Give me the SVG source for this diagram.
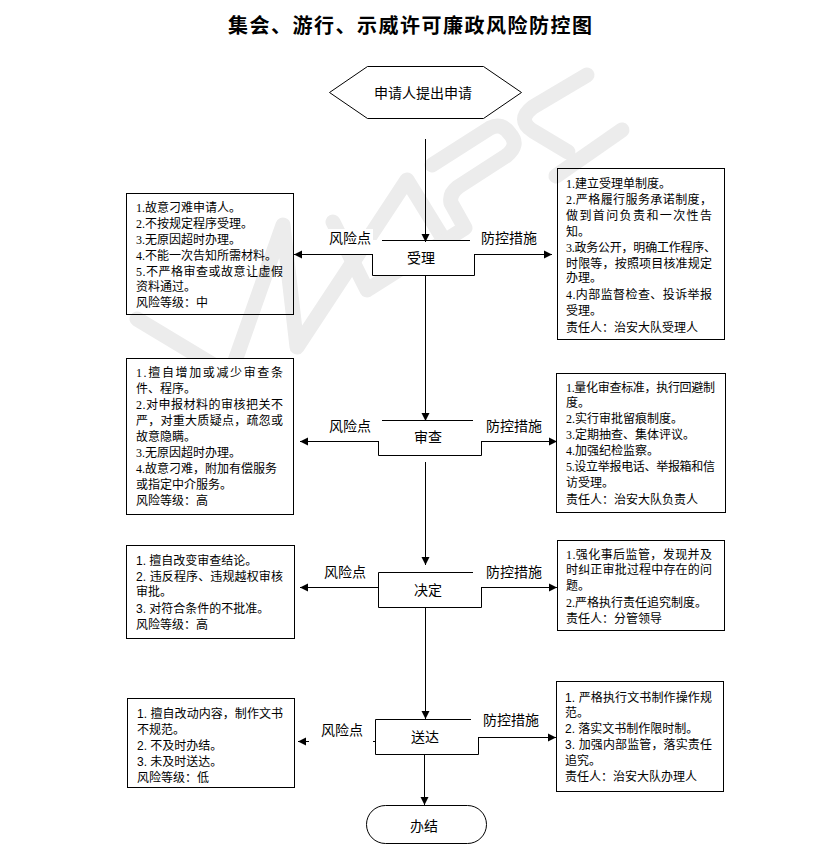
<svg xmlns="http://www.w3.org/2000/svg" width="823" height="859" viewBox="0 0 823 859">
<style>
text{font-family:"Liberation Serif","Noto Sans CJK SC",sans-serif;font-size:12px;fill:#000}
.s{font-family:"Liberation Sans","Noto Sans CJK SC",sans-serif}
.m{font-size:14px}
.c{text-anchor:middle}
.title{font-family:"Liberation Serif","Noto Sans CJK SC",serif;font-size:20px;font-weight:700;text-anchor:middle}
.box{fill:none;stroke:#000;stroke-width:1}
.ln{fill:none;stroke:#000;stroke-width:1}
.wm{fill:none;stroke:#ececec;stroke-width:15;stroke-linecap:round;stroke-linejoin:round}
.bg{fill:#fff;stroke:none}
</style>
<defs>
<marker id="ah" markerUnits="userSpaceOnUse" markerWidth="9" markerHeight="9" refX="8" refY="4.5" orient="auto"><path d="M0 0.5L8 4.5L0 8.5Z" fill="#000"/></marker>
</defs>
<rect width="823" height="859" fill="#fff"/>
<g id="watermark" class="wm">
<path d="M137 319L230 375L283 225L297 347L407 180L447 245"/>
<path d="M333 222L367 290L465 228L451 203Q449 194 458 187L506 156Q520 145 510 134Q502 122 490 128L432 165"/>
<path d="M587 75L533 107Q516 120 533 131L568 152"/>
<path d="M622 130L556 176"/>
</g>
<text class="title" x="410" y="33" textLength="364">集会、游行、示威许可廉政风险防控图</text>
<g id="start">
<path class="box" d="M329.5 92.5L367.5 66.5H483.5L521.5 92.5L483.5 118.5H367.5Z"/>
<text class="m c" x="423" y="98">申请人提出申请</text>
</g>
<g id="n-shouli">
<rect class="bg" x="372" y="240" width="103" height="36"/>
<path class="box" d="M382 240.5H470M372.5 254V275.5H474.5V254"/>
<text class="m c" x="421" y="263">受理</text>
</g>
<g id="n-shencha">
<path class="box" d="M382 420.5H473M378.5 441V455.5H481.5V441"/>
<text class="m c" x="428" y="442">审查</text>
</g>
<g id="n-jueding">
<path class="box" d="M473 572.5H378.5V607.5H481.5V587"/>
<text class="m c" x="428" y="595">决定</text>
</g>
<g id="n-songda">
<path class="box" d="M471 719.5H375.5V754.5H478.5V737"/>
<text class="m c" x="425" y="742">送达</text>
</g>
<g id="end">
<rect class="box" x="366.5" y="805.5" width="120" height="38" rx="19" ry="19"/>
<text class="m c" x="424" y="831">办结</text>
</g>
<g id="labels">
<rect class="bg" x="327" y="229" width="46" height="25"/>
<rect class="bg" x="475" y="229" width="65" height="25"/>
<text class="m" x="329" y="243">风险点</text>
<text class="m" x="481" y="243">防控措施</text>
<text class="m" x="329" y="431">风险点</text>
<text class="m" x="486" y="431">防控措施</text>
<text class="m" x="324" y="577">风险点</text>
<text class="m" x="486" y="577">防控措施</text>
<text class="m" x="321" y="735">风险点</text>
<text class="m" x="483" y="725">防控措施</text>
</g>
<g id="connectors">
<path class="ln" d="M425.5 139V242" marker-end="url(#ah)"/>
<path class="ln" d="M425.5 275V421" marker-end="url(#ah)"/>
<path class="ln" d="M425.5 462V565" marker-end="url(#ah)"/>
<path class="ln" d="M425.5 607V719" marker-end="url(#ah)"/>
<path class="ln" d="M424.5 754V805" marker-end="url(#ah)"/>
<path class="ln" d="M372 254.5H294" marker-end="url(#ah)"/>
<path class="ln" d="M474 254.5H552" marker-end="url(#ah)"/>
<path class="ln" d="M378 441.5H300" marker-end="url(#ah)"/>
<path class="ln" d="M481 441.5H557" marker-end="url(#ah)"/>
<path class="ln" d="M378 587.5H300" marker-end="url(#ah)"/>
<path class="ln" d="M481 587.5H557" marker-end="url(#ah)"/>
<path class="ln" d="M309 741.5H298" marker-end="url(#ah)"/>
<path class="ln" d="M375 741.5H373"/>
<path class="ln" d="M478 737.5H556" marker-end="url(#ah)"/>
</g>
<g id="risk-1">
<rect class="box" x="126.5" y="193.5" width="167" height="121"/>
<text x="136" y="212">1.故意刁难申请人。</text>
<text x="136" y="228">2.不按规定程序受理。</text>
<text x="136" y="244">3.无原因超时办理。</text>
<text x="136" y="260">4.不能一次告知所需材料。</text>
<text x="136" y="276" textLength="147">5.不严格审查或故意让虚假</text>
<text x="136" y="291">资料通过。</text>
<text x="136" y="307">风险等级：中</text>
</g>
<g id="control-1">
<rect class="box" x="557.5" y="168.5" width="167" height="171"/>
<text x="566" y="188">1.建立受理单制度。</text>
<text x="566" y="204" textLength="146">2.严格履行服务承诺制度，</text>
<text x="566" y="220" textLength="146">做到首问负责和一次性告</text>
<text x="566" y="236">知。</text>
<text x="566" y="252" textLength="150">3.政务公开，明确工作程序、</text>
<text x="566" y="268" textLength="146">时限等，按照项目核准规定</text>
<text x="566" y="282">办理。</text>
<text x="566" y="299" textLength="146">4.内部监督检查、投诉举报</text>
<text x="566" y="315">受理。</text>
<text x="566" y="332">责任人：治安大队受理人</text>
</g>
<g id="risk-2">
<rect x="126.5" y="358.5" width="167" height="156" fill="#fff" stroke="#000"/>
<text x="136" y="377" textLength="147">1.擅自增加或减少审查条</text>
<text x="136" y="393">件、程序。</text>
<text x="136" y="409" textLength="147">2.对申报材料的审核把关不</text>
<text x="136" y="425" textLength="147">严，对重大质疑点，疏忽或</text>
<text x="136" y="441">故意隐瞒。</text>
<text x="136" y="457">3.无原因超时办理。</text>
<text x="136" y="473">4.故意刁难，附加有偿服务</text>
<text x="136" y="489">或指定中介服务。</text>
<text x="136" y="505">风险等级：高</text>
</g>
<g id="control-2">
<rect class="box" x="556.5" y="373.5" width="169" height="139"/>
<text x="566" y="392" textLength="149">1.量化审查标准，执行回避制</text>
<text x="566" y="407">度。</text>
<text x="566" y="423">2.实行审批留痕制度。</text>
<text x="566" y="439">3.定期抽查、集体评议。</text>
<text x="566" y="455">4.加强纪检监察。</text>
<text x="566" y="471" textLength="149">5.设立举报电话、举报箱和信</text>
<text x="566" y="487">访受理。</text>
<text x="566" y="504">责任人：治安大队负责人</text>
</g>
<g id="risk-3">
<rect class="box" x="126.5" y="545.5" width="168" height="93"/>
<text class="s" x="136" y="565">1. 擅自改变审查结论。</text>
<text class="s" x="136" y="581" textLength="147">2. 违反程序、违规越权审核</text>
<text x="136" y="596">审批。</text>
<text class="s" x="136" y="613">3. 对符合条件的不批准。</text>
<text x="136" y="629">风险等级：高</text>
</g>
<g id="control-3">
<rect class="box" x="557.5" y="540.5" width="167" height="90"/>
<text x="566" y="559" textLength="146">1.强化事后监管，发现并及</text>
<text x="566" y="574" textLength="146">时纠正审批过程中存在的问</text>
<text x="566" y="590">题。</text>
<text x="566" y="607">2.严格执行责任追究制度。</text>
<text x="566" y="623">责任人：分管领导</text>
</g>
<g id="risk-4">
<rect class="box" x="127.5" y="698.5" width="167" height="89"/>
<text class="s" x="137" y="718" textLength="146">1. 擅自改动内容，制作文书</text>
<text x="137" y="734">不规范。</text>
<text class="s" x="137" y="750">2. 不及时办结。</text>
<text class="s" x="137" y="766">3. 未及时送达。</text>
<text x="137" y="782">风险等级：低</text>
</g>
<g id="control-4">
<rect class="box" x="556.5" y="681.5" width="167" height="110"/>
<text class="s" x="565" y="702" textLength="147">1. 严格执行文书制作操作规</text>
<text x="565" y="717">范。</text>
<text class="s" x="565" y="733">2. 落实文书制作限时制。</text>
<text class="s" x="565" y="749" textLength="147">3. 加强内部监管，落实责任</text>
<text x="565" y="765">追究。</text>
<text x="565" y="781">责任人：治安大队办理人</text>
</g>
</svg>
